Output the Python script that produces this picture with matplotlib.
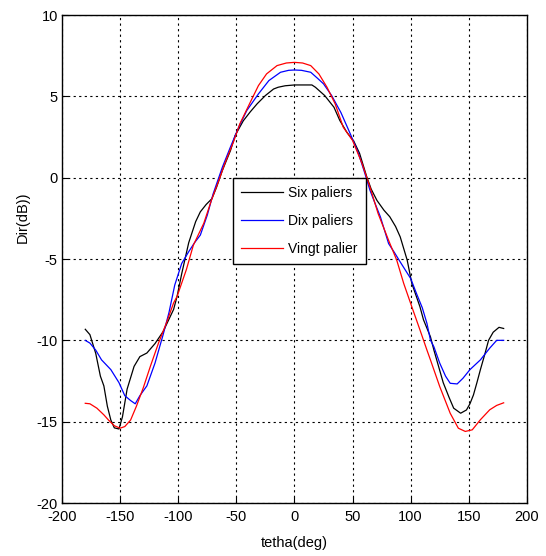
import matplotlib
matplotlib.use("Agg")
import matplotlib.pyplot as plt

plt.rcParams['font.family'] = ['Liberation Sans', 'DejaVu Sans']
plt.rcParams['axes.unicode_minus'] = False

# Directivity (dB) versus angle for three staircase approximations
six_theta = [-180, -176, -171, -167, -164, -161, -158, -155, -151, -148, -144, -138, -133,
             -127, -120, -113, -104, -101, -97, -91, -85, -81, -76, -71, -67, -62, -55,
             -51, -44, -38, -32, -25, -18, -14, -8, 0, 8, 15, 18, 26, 34, 39, 45, 51, 56,
             62, 66, 71, 77, 82, 87, 91, 97, 101, 108, 111, 117, 120, 124, 128, 133, 137,
             143, 148, 151, 154, 157, 160, 164, 167, 171, 176, 180]
six_dir = [-9.32, -9.65, -10.8, -12.2, -12.8, -14.05, -14.9, -15.38, -15.45, -14.7, -13.0,
           -11.6, -11.0, -10.78, -10.2, -9.46, -8.1, -7.3, -5.9, -4.0, -2.7, -2.1, -1.65,
           -1.29, -0.58, 0.45, 1.68, 2.6, 3.5, 4.05, 4.55, 5.05, 5.45, 5.56, 5.65, 5.7,
           5.7, 5.7, 5.56, 5.05, 4.33, 3.52, 2.8, 2.25, 1.5, 0.1, -0.7, -1.4, -2.0, -2.4,
           -3.0, -3.64, -5.07, -6.5, -7.94, -8.73, -9.78, -10.6, -11.6, -12.6, -13.5,
           -14.17, -14.48, -14.28, -13.9, -13.36, -12.6, -11.8, -10.8, -10.0, -9.5, -9.2,
           -9.27]

dix_theta = [-180, -176, -171, -166, -158, -151, -146, -141, -137, -133, -127, -120, -113,
             -108, -103, -97, -91, -86, -81, -75, -70, -62, -55, -48, -41, -31, -22, -12,
             -5, 0, 6, 14, 20, 25, 32, 40, 48, 55, 60, 65, 70, 74, 81, 86, 91, 100, 105,
             110, 114, 117, 120, 125, 130, 134, 140, 145, 151, 160, 168, 174, 180]
dix_dir = [-10.0, -10.17, -10.6, -11.2, -11.8, -12.6, -13.4, -13.7, -13.9, -13.4, -12.8,
           -11.4, -9.65, -8.3, -6.6, -5.27, -4.55, -4.0, -3.53, -2.3, -1.0, 0.65, 1.9, 3.1,
           4.13, 5.15, 5.97, 6.48, 6.6, 6.62, 6.6, 6.48, 6.1, 5.77, 5.05, 4.0, 2.7, 1.5,
           0.4, -0.78, -1.7, -2.42, -4.05, -4.6, -5.18, -6.2, -7.12, -8.0, -8.96, -9.98,
           -10.4, -11.4, -12.2, -12.64, -12.68, -12.33, -11.8, -11.2, -10.48, -10.0, -10.0]

vingt_theta = [-180, -176, -170, -164, -160, -155, -150, -146, -141, -136, -130, -124,
               -117, -110, -104, -101, -93, -87, -78, -71, -65, -60, -52, -47, -38, -31,
               -24, -15, -7, 0, 7, 14, 21, 28, 35, 42, 50, 58, 65, 72, 81, 88, 94, 101,
               108, 114, 117, 125, 134, 141, 147, 153, 160, 168, 174, 180]
vingt_dir = [-13.87, -13.9, -14.17, -14.58, -14.9, -15.25, -15.4, -15.3, -14.9, -14.05,
             -12.9, -11.6, -10.17, -8.9, -7.7, -7.3, -5.65, -4.15, -2.8, -1.29, -0.16,
             0.86, 2.29, 3.31, 4.64, 5.66, 6.38, 6.89, 7.05, 7.09, 7.05, 6.89, 6.38, 5.56,
             4.54, 3.1, 2.29, 0.9, -0.58, -2.21, -3.85, -5.07, -6.5, -7.94, -9.36, -10.6,
             -11.2, -12.84, -14.48, -15.4, -15.6, -15.5, -14.88, -14.27, -14.0, -13.84]

series_labels = ['Six paliers', 'Dix paliers', 'Vingt palier']
x_ticks = [-200, -150, -100, -50, 0, 50, 100, 150, 200]
y_ticks = [-20, -15, -10, -5, 0, 5, 10]

fig = plt.figure(figsize=(5.46, 5.56), dpi=100)
ax = fig.add_axes([0.1136, 0.0953, 0.8514, 0.8777])

ax.plot(six_theta, six_dir, color='black', lw=0.9, label=series_labels[0])
ax.plot(dix_theta, dix_dir, color='blue', lw=0.9, label=series_labels[1])
ax.plot(vingt_theta, vingt_dir, color='red', lw=0.9, label=series_labels[2])

ax.set_xlim(-200, 200)
ax.set_ylim(-20, 10)
ax.set_xticks(x_ticks)
ax.set_yticks(y_ticks)
ax.grid(True, color='black', linestyle=(0, (2, 3)), linewidth=0.8)
ax.tick_params(direction='in', length=4, width=0.8, labelsize=10.5, top=False, right=False)
ax.tick_params(axis='x', pad=5)
ax.tick_params(axis='y', pad=3)
for s in ax.spines.values():
    s.set_linewidth(1.0)

ax.set_xlabel('tetha(deg)', fontsize=10.5)
ax.xaxis.set_label_coords(0.5, -0.067)
ax.set_ylabel('Dir(dB))', fontsize=10.5)
ax.yaxis.set_label_coords(-0.069, 0.586)

leg = ax.legend(loc='upper left', bbox_to_anchor=(0.367, 0.667), fontsize=10,
                frameon=True, fancybox=False, framealpha=1, edgecolor='black',
                handlelength=3.0, handletextpad=0.4, borderpad=0.6, labelspacing=1.0,
                borderaxespad=0)
leg.get_frame().set_linewidth(1.0)

fig.savefig('out.png', dpi=100)
